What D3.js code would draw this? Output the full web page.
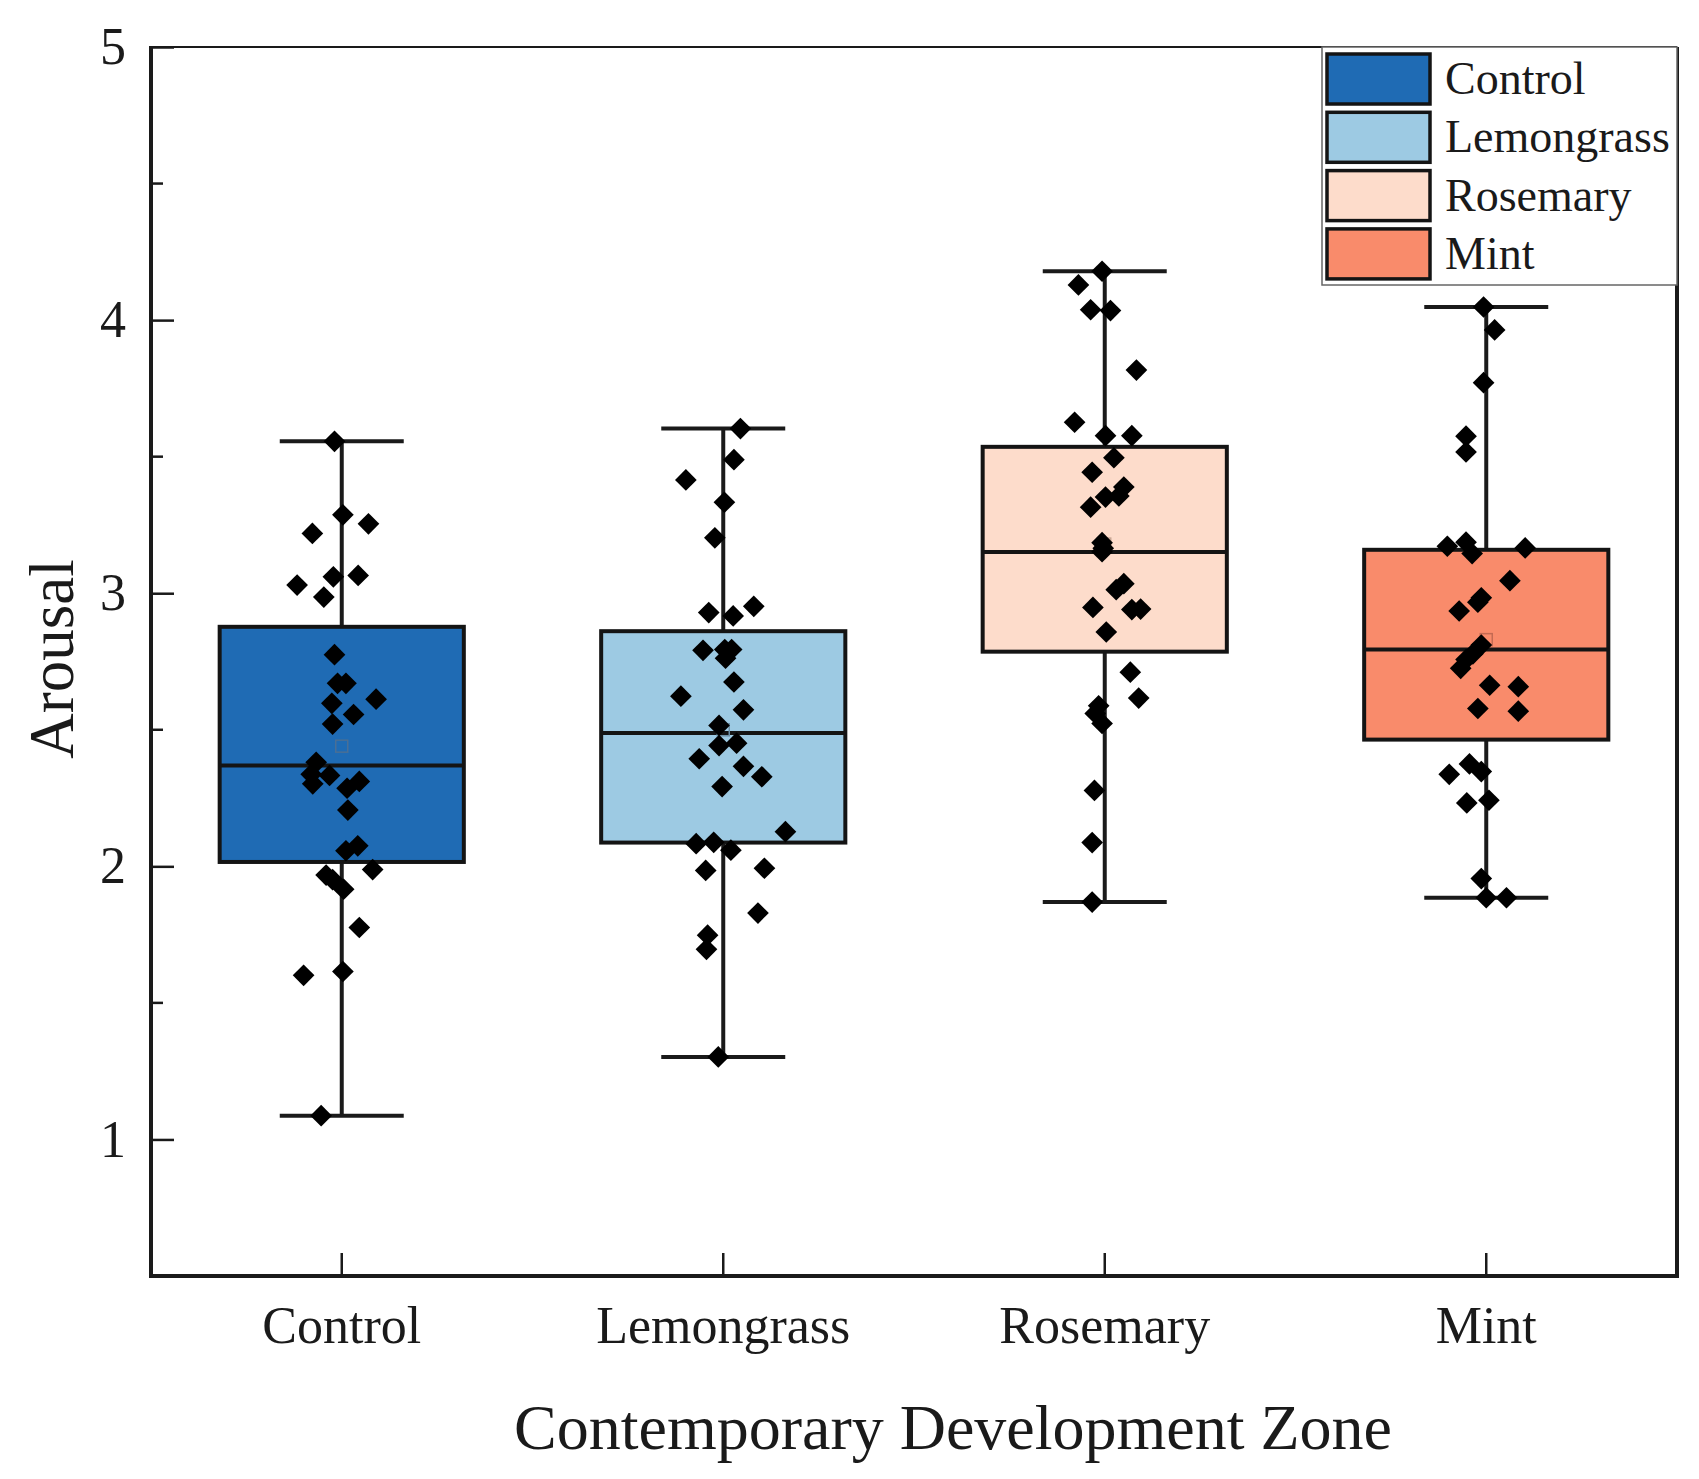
<!DOCTYPE html>
<html>
<head>
<meta charset="utf-8">
<script src="https://cdn.jsdelivr.net/npm/d3@7"></script>
<style>
  body { margin: 0; background: #fff; }
  svg text { font-family: "Liberation Serif", "Times New Roman", serif; fill: #1a1a1a; }
</style>
</head>
<body>
<div id="chart"></div>
<script>
// groups and box statistics
var groups = ["Control", "Lemongrass", "Rosemary", "Mint"];
var colors = ["#1f6bb4", "#9dcae3", "#fddccb", "#f98b6b"];
var meanColors = ["#4a6f95", "#6b8fa5", "#c9a796", "#c46a52"];
var whiskerLow = [1.087, 1.302, 1.869, 1.885];
var q1 = [2.016, 2.087, 2.786, 2.464];
var median = [2.369, 2.488, 3.151, 2.794];
var q3 = [2.877, 2.861, 3.536, 3.159];
var whiskerHigh = [3.556, 3.603, 4.179, 4.048];
var means = [2.44, 2.50, 3.18, 2.83];

// raw points per group: value and horizontal jitter (% of band)
var controlVals = [3.556, 3.287, 3.254, 3.219, 3.030, 3.060, 3.065, 2.986, 2.775, 2.670, 2.670, 2.612, 2.597, 2.556, 2.521, 2.381,
  2.337, 2.333, 2.302, 2.286, 2.311, 2.206, 2.057, 2.075, 1.968, 1.951, 1.988, 1.916, 1.776, 1.601, 1.615, 1.087];
var controlJit = [-1.9, 0.3, 7.0, -7.7, -11.7, -2.2, 4.3, -4.7, -1.9, -1.1, 1.1, 9.0, -2.6, 3.1, -2.4, -6.7,
  -8.0, -3.2, -7.6, 1.4, 4.6, 1.6, 1.1, 4.2, -4.1, -2.4, 8.1, 0.5, 4.6, -10.0, 0.3, -5.4];
var lemonVals = [3.603, 3.489, 3.415, 3.333, 3.203, 2.929, 2.917, 2.952, 2.791, 2.794, 2.794, 2.762, 2.675, 2.623, 2.573, 2.516,
  2.442, 2.451, 2.394, 2.366, 2.328, 2.292, 2.127, 2.083, 2.088, 2.059, 1.985, 1.993, 1.829, 1.748, 1.696, 1.302];
var lemonJit = [4.5, 2.8, -9.8, 0.3, -2.2, -3.8, 2.6, 8.0, -5.3, 0.4, 2.2, 0.6, 2.8, -11.1, 5.3, -1.1,
  -1.1, 3.5, -6.3, 5.3, 10.1, -0.3, 16.3, -7.1, -2.5, 2.0, -4.6, 10.8, 9.1, -4.1, -4.4, -1.3];
var roseVals = [4.179, 4.129, 4.038, 4.035, 3.817, 3.626, 3.577, 3.577, 3.496, 3.443, 3.389, 3.356, 3.352, 3.315, 3.185, 3.152,
  3.165, 3.035, 3.013, 2.948, 2.940, 2.942, 2.858, 2.711, 2.616, 2.588, 2.560, 2.523, 2.278, 2.087, 1.869];
var roseJit = [-0.7, -6.9, -3.7, 1.5, 8.3, -7.9, 0.2, 7.1, 2.4, -3.3, 5.0, 3.7, 0.2, -3.7, -0.7, -0.7,
  -0.4, 5.0, 3.0, -3.1, 7.1, 9.4, 0.4, 6.7, 8.9, -1.6, -2.5, -0.7, -2.7, -3.3, -3.3];
var mintVals = [4.048, 3.964, 3.771, 3.575, 3.517, 3.172, 3.187, 3.145, 3.166, 3.046, 2.983, 2.967, 2.935, 2.810, 2.778, 2.757,
  2.725, 2.663, 2.658, 2.578, 2.568, 2.375, 2.347, 2.337, 2.232, 2.242, 1.955, 1.885, 1.885];
var mintJit = [-0.7, 2.2, -0.7, -5.3, -5.3, -10.2, -5.3, -3.7, 10.2, 6.2, -1.3, -2.2, -7.1, -1.3, -3.5, -5.3,
  -6.7, 0.9, 8.4, -2.2, 8.4, -4.4, -1.3, -9.7, -5.1, 0.7, -1.3, 0.0, 5.3];

var yMajor = [1, 2, 3, 4, 5];
var yMinor = [1.5, 2.5, 3.5, 4.5];

var pointVals = [controlVals, lemonVals, roseVals, mintVals];
var pointJit = [controlJit, lemonJit, roseJit, mintJit];

var width = 1699, height = 1479;
var plotLeft = 151, plotRight = 1677, plotTop = 47, plotBottom = 1276;

var svg = d3.select("#chart").append("svg")
  .attr("width", width)
  .attr("height", height);

var x = d3.scaleBand().domain(groups).range([plotLeft, plotRight]).padding(0);
var y = d3.scaleLinear().domain([0.5, 5]).range([plotBottom, plotTop]);
var bw = x.bandwidth();
var boxW = bw * 0.64;
var capW = bw * 0.325;

// y axis
var yAxis = svg.append("g")
  .attr("transform", "translate(" + plotLeft + ",0)")
  .call(d3.axisLeft(y).tickValues(yMajor).tickFormat(d3.format("d"))
    .tickSizeInner(-23).tickSizeOuter(0).tickPadding(25));
yAxis.select(".domain").remove();
yAxis.selectAll(".tick line").attr("stroke", "#1a1a1a").attr("stroke-width", 2.5);
yAxis.selectAll(".tick text").attr("font-size", 52).attr("dy", "0.32em");

svg.append("g").selectAll("line")
  .data(yMinor)
  .enter().append("line")
  .attr("x1", plotLeft).attr("x2", plotLeft + 12)
  .attr("y1", function(d) { return y(d); })
  .attr("y2", function(d) { return y(d); })
  .attr("stroke", "#1a1a1a").attr("stroke-width", 2.5);

// x axis
var xAxis = svg.append("g")
  .attr("transform", "translate(0," + plotBottom + ")")
  .call(d3.axisBottom(x).tickSizeInner(-23).tickSizeOuter(0).tickPadding(30));
xAxis.select(".domain").remove();
xAxis.selectAll(".tick line").attr("stroke", "#1a1a1a").attr("stroke-width", 2.5);
xAxis.selectAll(".tick text").attr("font-size", 52);

// boxes
var boxes = svg.append("g").selectAll("g")
  .data(groups)
  .enter().append("g")
  .attr("transform", function(d) { return "translate(" + (x(d) + bw / 2) + ",0)"; });

boxes.append("line")
  .attr("y1", function(d, i) { return y(whiskerLow[i]); })
  .attr("y2", function(d, i) { return y(whiskerHigh[i]); })
  .attr("stroke", "#1a1a1a").attr("stroke-width", 4);

boxes.append("line")
  .attr("x1", -capW / 2).attr("x2", capW / 2)
  .attr("y1", function(d, i) { return y(whiskerLow[i]); })
  .attr("y2", function(d, i) { return y(whiskerLow[i]); })
  .attr("stroke", "#1a1a1a").attr("stroke-width", 4);

boxes.append("line")
  .attr("x1", -capW / 2).attr("x2", capW / 2)
  .attr("y1", function(d, i) { return y(whiskerHigh[i]); })
  .attr("y2", function(d, i) { return y(whiskerHigh[i]); })
  .attr("stroke", "#1a1a1a").attr("stroke-width", 4);

boxes.append("rect")
  .attr("x", -boxW / 2)
  .attr("width", boxW)
  .attr("y", function(d, i) { return y(q3[i]); })
  .attr("height", function(d, i) { return y(q1[i]) - y(q3[i]); })
  .attr("fill", function(d, i) { return colors[i]; })
  .attr("stroke", "#141414").attr("stroke-width", 4);

boxes.append("line")
  .attr("x1", -boxW / 2).attr("x2", boxW / 2)
  .attr("y1", function(d, i) { return y(median[i]); })
  .attr("y2", function(d, i) { return y(median[i]); })
  .attr("stroke", "#141414").attr("stroke-width", 4);

boxes.append("rect")
  .attr("x", -6).attr("width", 12)
  .attr("y", function(d, i) { return y(means[i]) - 6; })
  .attr("height", 12)
  .attr("fill", "none")
  .attr("stroke", function(d, i) { return meanColors[i]; })
  .attr("stroke-width", 1.5);

// points
var diamond = d3.symbol().type(d3.symbolDiamond2).size(300);
boxes.each(function(g, i) {
  d3.select(this).selectAll("path.pt")
    .data(pointVals[i])
    .enter().append("path")
    .attr("class", "pt")
    .attr("d", diamond)
    .attr("transform", function(v, j) {
      return "translate(" + (pointJit[i][j] / 100 * bw) + "," + y(v) + ")";
    })
    .attr("fill", "#000");
});

// frame
svg.append("line").attr("x1", plotLeft).attr("x2", plotRight).attr("y1", plotTop).attr("y2", plotTop)
  .attr("stroke", "#1a1a1a").attr("stroke-width", 2);
svg.append("line").attr("x1", plotRight).attr("x2", plotRight).attr("y1", plotTop).attr("y2", plotBottom)
  .attr("stroke", "#1a1a1a").attr("stroke-width", 4);
svg.append("line").attr("x1", plotLeft).attr("x2", plotLeft).attr("y1", plotTop - 1).attr("y2", plotBottom + 2)
  .attr("stroke", "#1a1a1a").attr("stroke-width", 4);
svg.append("line").attr("x1", plotLeft - 2).attr("x2", plotRight + 2).attr("y1", plotBottom).attr("y2", plotBottom)
  .attr("stroke", "#1a1a1a").attr("stroke-width", 4);

// legend
var legend = svg.append("g");
legend.append("rect")
  .attr("x", 1322).attr("y", plotTop)
  .attr("width", plotRight - 1322).attr("height", 238)
  .attr("fill", "#fff").attr("stroke", "#666").attr("stroke-width", 1.5);

var items = legend.selectAll("g.item")
  .data(groups)
  .enter().append("g")
  .attr("class", "item")
  .attr("transform", function(d, i) { return "translate(1327," + (54 + i * 58.3) + ")"; });

items.append("rect")
  .attr("width", 103).attr("height", 50)
  .attr("fill", function(d, i) { return colors[i]; })
  .attr("stroke", "#141414").attr("stroke-width", 3.5);

items.append("text")
  .attr("x", 118).attr("y", 40)
  .attr("font-size", 46)
  .text(function(d) { return d; });

// titles
svg.append("text")
  .attr("transform", "translate(73," + 659 + ") rotate(-90)")
  .attr("text-anchor", "middle")
  .attr("font-size", 63)
  .text("Arousal");

svg.append("text")
  .attr("x", 953).attr("y", 1449)
  .attr("text-anchor", "middle")
  .attr("font-size", 64)
  .text("Contemporary Development Zone");
</script>
</body>
</html>
